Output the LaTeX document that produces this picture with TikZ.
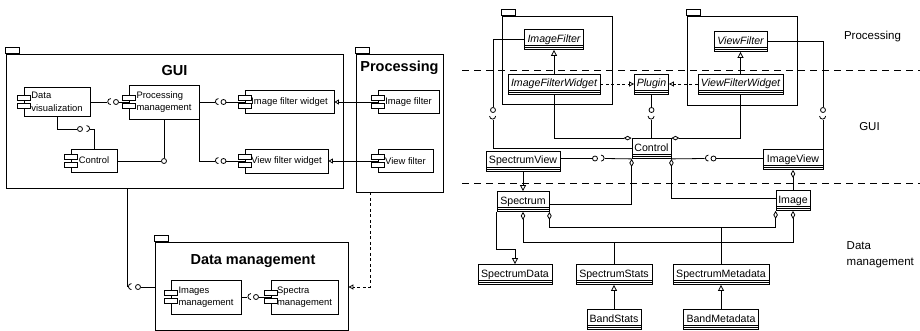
\documentclass[tikz,border=0pt]{standalone}
\usepackage{fontspec}
\setmainfont{Liberation Sans}
\usetikzlibrary{arrows.meta}

\newcommand{\compfont}{\fontsize{9.4}{12.5}\selectfont}
\newcommand{\clsfont}{\fontsize{10.6}{12}\selectfont}
\newcommand{\pkgfont}{\fontsize{14.5}{17}\selectfont\bfseries}
\newcommand{\layerfont}{\fontsize{11.5}{16}\selectfont}
% component icon on the left border
\newcommand{\compicon}[1]{%
  \draw[fill=white] ([xshift=-6pt,yshift=1.5pt]#1.west) rectangle ([xshift=6.5pt,yshift=6.5pt]#1.west);
  \draw[fill=white] ([xshift=-6pt,yshift=-1.5pt]#1.west) rectangle ([xshift=6.5pt,yshift=-6.5pt]#1.west);}

\begin{document}
\begin{tikzpicture}[x=1pt, y=-1pt, line width=0.8pt,
	pkg/.style={draw, inner sep=0pt,
		append after command={\pgfextra{\draw (\tikzlastnode.north west) rectangle ([xshift=14pt,yshift=6pt]\tikzlastnode.north west);}}},
	pkgtitle/.style={font=\pkgfont},
	comp/.style={draw, font=\compfont, align=left, inner sep=1pt},
	cls/.style={draw, fill=white, font=\clsfont, inner xsep=1pt, inner ysep=2.5pt,
		text height=10.5pt, text depth=4.5pt,
		path picture={
			\draw ([yshift=4pt]path picture bounding box.south west) -- ([yshift=4pt]path picture bounding box.south east);
			\draw ([yshift=2pt]path picture bounding box.south west) -- ([yshift=2pt]path picture bounding box.south east);}},
	abscls/.style={cls, font=\clsfont\itshape},
	ball/.style={circle, draw, fill=white, inner sep=0pt, minimum size=5pt},
	sockl/.style={inner sep=0pt, minimum width=3pt, minimum height=6pt,
		append after command={\pgfextra{\draw (\tikzlastnode.north east) arc[start angle=90, end angle=270, radius=3pt];}}},
	sockr/.style={inner sep=0pt, minimum width=3pt, minimum height=6pt,
		append after command={\pgfextra{\draw (\tikzlastnode.north west) arc[start angle=90, end angle=-90, radius=3pt];}}},
	sockup/.style={inner sep=0pt, minimum width=6pt, minimum height=3pt,
		append after command={\pgfextra{\draw (\tikzlastnode.north west) arc[start angle=180, end angle=360, radius=3pt];}}},
	inh/.style={-{Triangle[open, length=6pt, width=6pt]}},
	inhs/.style={-{Triangle[open, length=4.5pt, width=5pt]}},
	real/.style={dash pattern=on 3pt off 2.5pt, -{Triangle[open, length=5pt, width=5pt]}},
	agg/.style={-{Diamond[open, length=8pt, width=4.5pt]}},
	aggb/.style={{Diamond[open, length=8pt, width=4.5pt]}-{Diamond[open, length=8pt, width=4.5pt]}},
	sepline/.style={dash pattern=on 7pt off 5pt},
	layername/.style={font=\layerfont}]

	\useasboundingbox (0,0) rectangle (920,331);

	% left: components
	\node[pkg, minimum width=337pt, minimum height=134pt] (gui) at (174.5,121) {};
	\node[pkg, minimum width=87pt, minimum height=138pt] (proc) at (399.5,123) {};
	\node[pkg, minimum width=193pt, minimum height=88pt] (data) at (251.5,286) {};
	\node[pkgtitle] (guititle) at (174.5,71) {GUI};
	\node[pkgtitle] (proctitle) at (399.5,67.5) {Processing};
	\node[pkgtitle] (datatitle) at (253,261) {Data management};

	\node[comp, minimum width=66pt, minimum height=29pt] (dv) at (57,102) {Data\\visualization};
	\node[comp, minimum width=70pt, minimum height=34pt] (pm) at (164,102) {Processing\\management};
	\node[comp, minimum width=46pt, minimum height=23pt] (ctrl) at (94,160.5) {Control};
	\node[comp, minimum width=89pt, minimum height=23pt] (ifw) at (289.5,102) {Image filter widget};
	\node[comp, minimum width=83pt, minimum height=24pt] (vfw) at (286.5,161) {View filter widget};
	\node[comp, minimum width=61pt, minimum height=23pt] (imf) at (408.5,102) {Image filter};
	\node[comp, minimum width=55pt, minimum height=23pt] (vwf) at (405.5,161) {View filter};
	\node[comp, minimum width=70pt, minimum height=34pt] (imgm) at (206,297) {Images\\management};
	\node[comp, minimum width=67pt, minimum height=34pt] (spm) at (304.5,297) {Spectra\\management};
	\foreach \cname in {dv,pm,ctrl,ifw,vfw,imf,vwf,imgm,spm}{\compicon{\cname}}

	\node[sockl] (s1) at (108.8,102) {};
	\node[ball] (b1) at (116,102) {};
	\node[ball] (b2) at (80,129) {};
	\node[sockr] (s2) at (88.5,129) {};
	\node[ball] (b3) at (164,161) {};
	\node[sockl] (s3) at (216.5,102) {};
	\node[ball] (b4) at (223.5,102) {};
	\node[sockl] (s4) at (216.5,161) {};
	\node[ball] (b5) at (223.5,161) {};
	\node[sockl] (s5) at (129.5,287) {};
	\node[ball] (b6) at (138,287) {};
	\node[sockl] (s6) at (249,297) {};
	\node[ball] (b7) at (256,297) {};
	\coordinate (pd) at (370,287);

	\draw (dv.east) -- (s1.west);
	\draw (b1) -- (pm.west);
	\draw (dv.south) |- (b2);
	\draw (s2.east) -| (ctrl.north);
	\draw (pm.south) -- (b3);
	\draw (ctrl.east |- b3) -- (b3);
	\draw (pm.east) -- (s3.west);
	\draw (b4) -- (ifw.west);
	\draw (pm.south east) |- (s4.west);
	\draw (b5) -- (vfw.west);
	\draw[inhs] (imf.west) -- (ifw.east);
	\draw[inhs] (vwf.west) -- (vfw.east);
	\draw (gui.south -| s5.west) -- (s5.west);
	\draw (b6) -- (b6 -| data.west);
	\draw (imgm.east) -- (s6.west);
	\draw (b7) -- (spm.west);
	\draw[real] (proc.south -| pd) |- (data.east |- pd);

	% right: classes
	\draw[sepline] (462,70) -- (920,70);
	\draw[sepline] (462,183) -- (920,183);
	\node[layername] (lproc) at (872.5,37) {Processing};
	\node[layername] (lgui) at (869.5,127) {GUI};
	\node[layername, align=left, anchor=west] (ldata) at (843,255) {Data\\management};

	\node[pkg, minimum width=110pt, minimum height=88pt] (ifpkg) at (557,60) {};
	\node[pkg, minimum width=110pt, minimum height=89pt] (vfpkg) at (742,60.5) {};

	\node[abscls, minimum width=59pt] (imgfilter) at (554,39.5) {ImageFilter};
	\node[abscls, minimum width=92pt] (imgfw) at (554,84) {ImageFilterWidget};
	\node[abscls, minimum width=34pt] (plugin) at (651.5,84) {Plugin};
	\node[abscls, minimum width=53pt] (viewfilter) at (740.5,41.5) {ViewFilter};
	\node[abscls, minimum width=85pt] (viewfw) at (740.5,84) {ViewFilterWidget};
	\node[cls, minimum width=39pt] (control) at (651.5,148.5) {Control};
	\node[cls, minimum width=74pt] (specview) at (523,161) {SpectrumView};
	\node[cls, minimum width=60pt] (imgview) at (793,159.5) {ImageView};
	\node[cls, minimum width=52pt] (spectrum) at (523,201.5) {Spectrum};
	\node[cls, minimum width=34pt] (image) at (793,200.5) {Image};
	\node[cls, minimum width=74pt] (spdata) at (515,274.5) {SpectrumData};
	\node[cls, minimum width=76pt] (spstats) at (614,274.5) {SpectrumStats};
	\node[cls, minimum width=96pt] (spmeta) at (721,274.5) {SpectrumMetadata};
	\node[cls, minimum width=54pt] (bandstats) at (614,319.5) {BandStats};
	\node[cls, minimum width=75pt] (bandmeta) at (721,319.5) {BandMetadata};

	\node[ball] (b8) at (493,110) {};
	\node[sockup] (s8) at (493,118) {};
	\node[ball] (b9) at (823,110) {};
	\node[sockup] (s9) at (823,118) {};
	\node[ball] (b10) at (651.5,110) {};
	\node[sockup] (s10) at (651.5,118) {};
	\node[ball] (b11) at (595,158.5) {};
	\node[sockr] (s11) at (603,158.5) {};
	\node[sockl] (s12) at (706.5,158.5) {};
	\node[ball] (b12) at (713.5,158.5) {};
	\coordinate (busa) at (614,241.5);
	\coordinate (busb) at (721,226.5);

	\draw[inh] (imgfw) -- (imgfilter);
	\draw[inh] (viewfw) -- (viewfilter);
	\draw[real] (imgfw) -- (plugin);
	\draw[real] (viewfw) -- (plugin);
	\draw (imgfilter.west) -| (b8);
	\draw (s8.south) |- (control.west);
	\draw (viewfilter.east) -| (b9);
	\draw (s9.south) -- (s9.south |- imgview.north);
	\draw (plugin) -- (b10);
	\draw (s10.south) -- (control.north);
	\draw[agg] (imgfw.south) |- (control.north west);
	\draw[agg] (viewfw.south) |- (control.north east);
	\draw (specview.east |- b11) -- (b11);
	\draw (s11.east) -- (control.south west);
	\draw (b12) -- (imgview.west |- b12);
	\draw (s12.west) -- (control.south east);
	\draw[agg] ([yshift=-2.5pt]spectrum.east) -| (control.south west);
	\draw[agg] ([yshift=2.5pt]image.west) -| (control.south east);
	\draw[agg] (image) -- (imgview);
	\draw[inh] (specview) -- (spectrum);
	\draw[inh] (spectrum.south west) -- ++(0,37) -| (spdata.north);
	\draw[aggb] (spectrum.south) -- ++(0,30) -| (image.south);
	\draw[aggb] (spectrum.south east) -- ++(0,15) -| (image.south west);
	\draw (spstats) -- (spstats.north |- busa);
	\draw (spmeta) -- (spmeta.north |- busb);
	\draw[inh] (bandstats) -- (spstats);
	\draw[inh] (bandmeta) -- (spmeta);
\end{tikzpicture}
\end{document}
